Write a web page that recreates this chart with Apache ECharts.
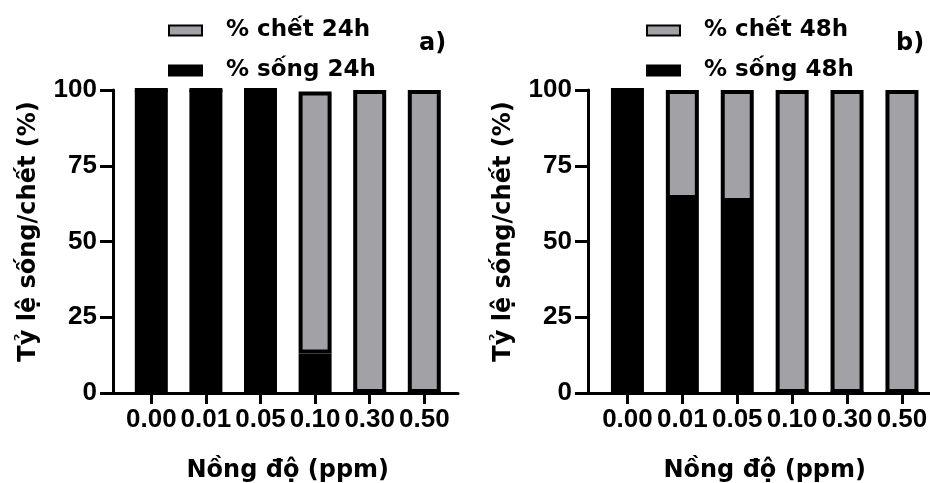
<!DOCTYPE html>
<html><head><meta charset="utf-8">
<script src="https://cdn.jsdelivr.net/npm/echarts@6/dist/echarts.min.js"></script>
<style>html,body{margin:0;padding:0;background:#fff}#c{width:930px;height:483px}</style>
</head><body><div id="c"></div>
<script>
const categories = ['0.00','0.01','0.05','0.10','0.30','0.50'];
const alive24 = [100,100,100,13,0,0];
const dead24  = [0,0,0,86.5,100,100];
const alive48 = [100,64,63,0,0,0];
const dead48  = [0,36,37,100,100,100];
const yTicks = [0,25,50,75,100];
const names = {dead24:'% chết 24h', alive24:'% sống 24h', dead48:'% chết 48h', alive48:'% sống 48h'};
const yName = 'Tỷ lệ sống/chết (%)';
const xName = 'Nồng độ (ppm)';

const GRAY = '#a2a1a6';
const LBL = {fontFamily:'Liberation Sans', fontWeight:'bold', fontSize:26, color:'#000'};
const NAME = {fontFamily:'DejaVu Sans', fontWeight:'bold', fontSize:24, color:'#000'};

const chart = echarts.init(document.getElementById('c'), null, {renderer:'canvas'});

function grid(left, width){ return {left, top:90, width, height:303, containLabel:false, outerBoundsMode:'none'}; }

const grids = [grid(113,345), grid(588,342), grid(124,327.6), grid(600,329.4)];

const xA = [], yA = [];
[0,1].forEach(g=>{
  xA.push({gridIndex:g, type:'value', min:0, max:1,
    axisLine:{show:true, onZero:false, lineStyle:{color:'#000', width:3}},
    axisTick:{show:false}, axisLabel:{show:false}, splitLine:{show:false}});
  yA.push({gridIndex:g, type:'value', min:yTicks[0], max:yTicks[yTicks.length-1], interval:25,
    axisLine:{show:true, lineStyle:{color:'#000', width:3}},
    axisTick:{show:true, length:13, lineStyle:{color:'#000', width:3}},
    axisLabel:Object.assign({margin:16}, LBL),
    splitLine:{show:false},
    name:yName, nameLocation:'middle', nameGap:72,
    nameTextStyle:Object.assign({padding:[0,0,0,20]}, NAME)});
});
[2,3].forEach(g=>{
  xA.push({gridIndex:g, type:'category', data:categories,
    axisLine:{show:false},
    axisTick:{show:true, alignWithLabel:true, length:11, lineStyle:{color:'#000', width:3}},
    axisLabel:Object.assign({margin:14, interval:0}, LBL),
    name:xName, nameLocation:'middle', nameGap:66, nameTextStyle:NAME});
  yA.push({gridIndex:g, type:'value', min:0, max:100, show:false, splitLine:{show:false}});
});

function bar(name, data, axis, stack, color){
  return {type:'bar', name, data, xAxisIndex:axis, yAxisIndex:axis, stack, barWidth:33,
    itemStyle:{color, borderColor:'#000', borderWidth:4}};
}

const legendCommon = {orient:'vertical', padding:0, itemWidth:33, itemHeight:10, itemGap:17, icon:'rect',
  textStyle:{fontFamily:'DejaVu Sans', fontWeight:'bold', fontSize:23, color:'#000', padding:[0,0,0,19]}};

chart.setOption({
  animation:false,
  grid:grids,
  xAxis:xA, yAxis:yA,
  title:[
    {text:'a)', left:414, top:27, textStyle:{fontFamily:'DejaVu Sans', fontWeight:'bold', fontSize:24, color:'#000'}},
    {text:'b)', left:891, top:27, textStyle:{fontFamily:'DejaVu Sans', fontWeight:'bold', fontSize:24, color:'#000'}}
  ],
  legend:[
    Object.assign({left:168, top:19, data:[names.dead24, names.alive24]}, legendCommon),
    Object.assign({left:646, top:19, data:[names.dead48, names.alive48]}, legendCommon)
  ],
  series:[
    bar(names.alive24, alive24, 2, 'a', '#000'),
    bar(names.dead24, dead24, 2, 'a', GRAY),
    bar(names.alive48, alive48, 3, 'b', '#000'),
    bar(names.dead48, dead48, 3, 'b', GRAY)
  ]
});
</script></body></html>
